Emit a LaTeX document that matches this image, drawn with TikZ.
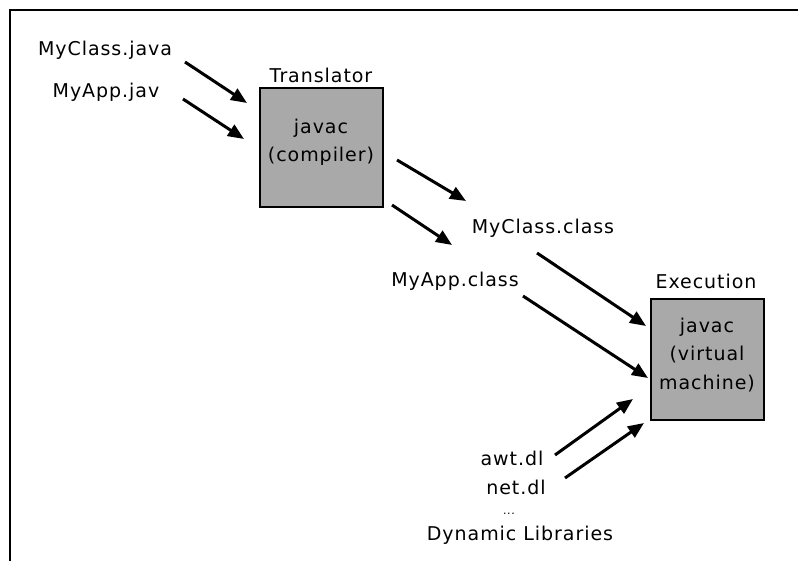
\documentclass[tikz,border=0pt]{standalone}
\usepackage{fontspec}
\setmainfont[LetterSpace=5]{DejaVu Sans}
\usetikzlibrary{arrows.meta}
\definecolor{boxgray}{HTML}{A9A9A9}
\begin{document}
\begin{tikzpicture}[x=1pt,y=-1pt,
  every node/.style={font=\fontsize{19}{21}\selectfont, inner sep=0pt},
  lbl/.style={anchor=center},
  procbox/.style={draw=black, line width=2pt, fill=boxgray, inner sep=0pt},
  flow/.style={line width=3pt, -{Triangle[length=16pt,width=13pt]}}
]
  \useasboundingbox (0,0) rectangle (798,561);
  % open frame (top and left edges)
  \draw[line width=2.8pt] (10,561) -- (10,10) -- (798,10);

  % translator stage
  \node[procbox, minimum width=123pt, minimum height=119pt] (comp) at (321.5,147.5) {};
  \node[lbl] (tr) at (321,75) {Translator};
  \node[lbl] (c1) at (321,128) {javac};
  \node[lbl] (c2) at (321,156) {(compiler)};

  % execution stage
  \node[procbox, minimum width=113pt, minimum height=121pt] (vm) at (707.5,359.5) {};
  \node[lbl] (ex) at (706,281) {Execution};
  \node[lbl] (v1) at (707,327) {javac};
  \node[lbl] (v2) at (707,355) {(virtual};
  \node[lbl] (v3) at (707,384) {machine)};

  % source files
  \node[lbl] (srcA) at (105,50) {MyClass.java};
  \node[lbl] (srcB) at (106,92) {MyApp.jav};

  % class files
  \node[lbl] (clsA) at (543,228) {MyClass.class};
  \node[lbl] (clsB) at (455,281) {MyApp.class};

  % dynamic libraries
  \node[lbl] (libA) at (512,458) {awt.dl};
  \node[lbl] (libB) at (516,487) {net.dl};
  \node[anchor=base, font=\fontsize{11}{12}\selectfont] (dots) at (509,514) {...};
  \node[lbl] (libs) at (520,535) {Dynamic Libraries};

  % arrow end points
  \coordinate (a1s) at (185,62);  \coordinate (a1e) at (247,103);
  \coordinate (a2s) at (183,99);  \coordinate (a2e) at (244,139);
  \coordinate (b1s) at (397,160); \coordinate (b1e) at (466,201);
  \coordinate (b2s) at (392,205); \coordinate (b2e) at (452,245);
  \coordinate (c1s) at (537,253); \coordinate (c1e) at (646,326);
  \coordinate (c2s) at (523,296); \coordinate (c2e) at (648,378);
  \coordinate (d1s) at (555,455); \coordinate (d1e) at (633,399);
  \coordinate (d2s) at (565,478); \coordinate (d2e) at (644,423);

  \draw[flow] (a1s) -- (a1e);
  \draw[flow] (a2s) -- (a2e);
  \draw[flow] (b1s) -- (b1e);
  \draw[flow] (b2s) -- (b2e);
  \draw[flow] (c1s) -- (c1e);
  \draw[flow] (c2s) -- (c2e);
  \draw[flow] (d1s) -- (d1e);
  \draw[flow] (d2s) -- (d2e);
\end{tikzpicture}
\end{document}
